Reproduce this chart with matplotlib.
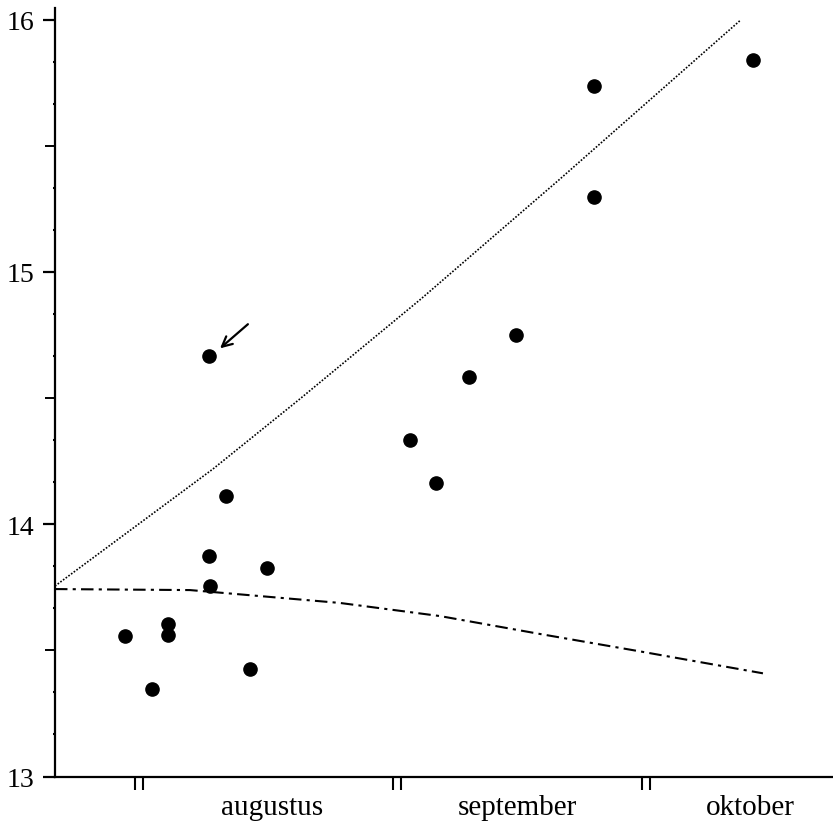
import numpy as np
import matplotlib
matplotlib.use("Agg")
import matplotlib.pyplot as plt
from matplotlib.ticker import FixedLocator, NullFormatter

plt.rcParams['font.family'] = ['Liberation Serif', 'DejaVu Serif']

# dagen vanaf 1 augustus (0 = grens juli/augustus)
dag = [-1.65, 1.60, 3.52, 3.52, 8.45, 8.45, 8.57, 10.49, 13.38, 15.42,
       32.61, 35.74, 39.70, 45.35, 54.73, 54.73, 73.84]
waarde = [13.557, 13.347, 13.604, 13.561, 14.667, 13.874, 13.755, 14.112, 13.426, 13.826,
          14.334, 14.163, 14.584, 14.750, 15.737, 15.297, 15.840]

# bovenste (gestippelde) curve
boven_x = [-10.06, 8.93, 19.39, 33.93, 50.66, 72.37]
boven_y = [13.755, 14.219, 14.497, 14.893, 15.369, 15.999]

# onderste (streep-punt) curve
onder_x = [-10.06, 6.17, 24.19, 36.21, 48.23, 60.25, 75.03]
onder_y = [13.743, 13.739, 13.688, 13.636, 13.565, 13.496, 13.409]

maandgrenzen = [0, 31, 61]
maanden = ["augustus", "september", "oktober"]
maand_pos = [16.0, 45.5, 73.5]

# pijl naar het afwijkende punt
pijl_van = (13.38, 14.80)
pijl_naar = (9.53, 14.69)

fig = plt.figure(figsize=(8.33, 8.29), dpi=100)
ax = fig.add_axes([0.066, 0.0621, 0.934, 0.927])

ax.plot(boven_x, boven_y, color='black', linestyle=(0, (1, 1.0)), linewidth=1.2)
ax.plot(onder_x, onder_y, color='black', linestyle=(0, (6, 2.5, 1.5, 2.5)), linewidth=1.5)
ax.plot(dag, waarde, 'o', color='black', markersize=9.5)

ax.annotate("", xy=pijl_naar, xytext=pijl_van,
            arrowprops=dict(arrowstyle='->', color='black', lw=1.6,
                            mutation_scale=18))

ax.set_xlim(-10.06, 83.45)
ax.set_ylim(13, 16.046)

for s in ['top', 'right']:
    ax.spines[s].set_visible(False)
for s in ['left', 'bottom']:
    ax.spines[s].set_linewidth(1.6)

# y-as: hele eenheden, kleine streepjes per 1/6
ax.set_yticks([13, 14, 15, 16])
ax.set_yticklabels(["13", "14", "15", "16"], fontsize=20)
klein = [13 + k / 6 for k in range(19) if k % 3 != 0]
ax.yaxis.set_minor_locator(FixedLocator(klein))
ax.tick_params(axis='y', which='major', direction='out', length=9, width=1.6, pad=6)
ax.tick_params(axis='y', which='minor', direction='out', length=1.5, width=1.5)

# halve eenheden met middellange streepjes
sec = ax.secondary_yaxis('left')
sec.set_yticks([13.5, 14.5, 15.5])
sec.yaxis.set_major_formatter(NullFormatter())
sec.tick_params(direction='out', length=7, width=1.4)
sec.spines['left'].set_visible(False)

# x-as: dubbele streepjes op de maandgrenzen
xt = []
for g in maandgrenzen:
    xt += [g - 0.48, g + 0.48]
ax.set_xticks(xt)
ax.set_xticklabels([])
ax.tick_params(axis='x', direction='out', length=9, width=1.5)

for naam, p in zip(maanden, maand_pos):
    ax.annotate(naam, xy=(p, 0), xycoords=('data', 'axes fraction'),
                xytext=(0, -22), textcoords='offset points',
                ha='center', va='center', fontsize=21)

fig.savefig("out.png", dpi=100)
